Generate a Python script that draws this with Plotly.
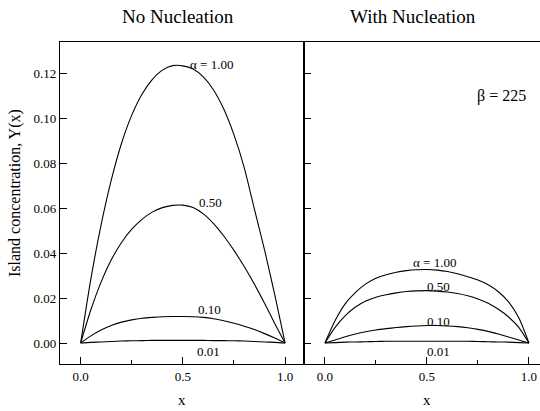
import plotly.graph_objects as go

# ---- data ----
x_pts = [0.0, 0.05, 0.10, 0.15, 0.20, 0.25, 0.30, 0.35, 0.40, 0.45, 0.50,
         0.55, 0.60, 0.65, 0.70, 0.75, 0.80, 0.85, 0.90, 0.95, 1.0]

# No Nucleation
no_a100 = [0, 0.0285, 0.0525, 0.0725, 0.0888, 0.1013, 0.1106, 0.1171, 0.1213, 0.1233, 0.1232,
           0.1218, 0.1183, 0.1125, 0.1040, 0.0925, 0.0780, 0.0595, 0.0412, 0.0212, 0]
no_a050 = [0, 0.0148, 0.0271, 0.0370, 0.0447, 0.0506, 0.0550, 0.0582, 0.0602, 0.0612, 0.0613,
           0.0602, 0.0574, 0.0531, 0.0476, 0.0412, 0.0340, 0.0261, 0.0176, 0.0086, 0]
no_a010 = [0, 0.0032, 0.0058, 0.0078, 0.0093, 0.0103, 0.0110, 0.0114, 0.0117, 0.0118, 0.0118,
           0.0117, 0.0114, 0.0108, 0.0099, 0.0088, 0.0075, 0.0060, 0.0042, 0.0022, 0]
no_a001 = [0, 0.0003, 0.0005, 0.0007, 0.0009, 0.0010, 0.0011, 0.0012, 0.0012, 0.0012, 0.0012,
           0.0012, 0.0012, 0.0011, 0.0011, 0.0010, 0.0009, 0.0007, 0.0005, 0.0003, 0]

# With Nucleation (beta = 225)
wn_a100 = [0, 0.0100, 0.0175, 0.0225, 0.0263, 0.0288, 0.0304, 0.0315, 0.0322, 0.0326, 0.0327,
           0.0324, 0.0318, 0.0308, 0.0295, 0.0280, 0.0259, 0.0228, 0.0183, 0.0112, 0]
wn_a050 = [0, 0.0070, 0.0122, 0.0160, 0.0187, 0.0204, 0.0215, 0.0223, 0.0229, 0.0232, 0.0233,
           0.0231, 0.0227, 0.0220, 0.0210, 0.0196, 0.0177, 0.0150, 0.0116, 0.0070, 0]
wn_a010 = [0, 0.0014, 0.0028, 0.0040, 0.0050, 0.0058, 0.0064, 0.0069, 0.0073, 0.0076, 0.0078,
           0.0078, 0.0076, 0.0073, 0.0068, 0.0061, 0.0052, 0.0040, 0.0027, 0.0014, 0]
wn_a001 = [0, 0.0002, 0.0004, 0.0005, 0.0006, 0.0007, 0.0008, 0.0008, 0.0008, 0.0008, 0.0008,
           0.0008, 0.0008, 0.0008, 0.0008, 0.0007, 0.0006, 0.0005, 0.0004, 0.0002, 0]

curve_labels = ["α = 1.00", "0.50", "0.10", "0.01"]
y_tick_vals = [0.00, 0.02, 0.04, 0.06, 0.08, 0.10, 0.12]
y_tick_text = ["0.00", "0.02", "0.04", "0.06", "0.08", "0.10", "0.12"]
x_tick_vals = [0.0, 0.5, 1.0]
x_tick_text = ["0.0", "0.5", "1.0"]
panel_titles = ["No Nucleation", "With Nucleation"]
beta_label = "β = 225"

FONT = "Liberation Serif, Times New Roman, serif"
line_style = dict(color="black", width=1.1, shape="spline", smoothing=0.7)

fig = go.Figure()
for ys in [no_a100, no_a050, no_a010, no_a001]:
    fig.add_trace(go.Scatter(x=x_pts, y=ys, mode="lines", line=line_style,
                             xaxis="x", yaxis="y", showlegend=False, hoverinfo="skip"))
for ys in [wn_a100, wn_a050, wn_a010, wn_a001]:
    fig.add_trace(go.Scatter(x=x_pts, y=ys, mode="lines", line=line_style,
                             xaxis="x2", yaxis="y2", showlegend=False, hoverinfo="skip"))

# curve labels (positions in data coordinates)
left_lbl = [(0.527, 0.1236, "left"), (0.634, 0.0625, "center"),
            (0.629, 0.0150, "center"), (0.624, -0.0039, "center")]
right_lbl = [(0.539, 0.0357, "center"), (0.559, 0.0253, "center"),
             (0.559, 0.0098, "center"), (0.559, -0.0039, "center")]
ann = []
lbl_font = dict(family=FONT, size=13, color="black")
for (xx, yy, anc), t in zip(left_lbl, curve_labels):
    ann.append(dict(x=xx, y=yy, xref="x", yref="y", text=t, showarrow=False,
                    xanchor=anc, yanchor="middle", font=lbl_font))
for (xx, yy, anc), t in zip(right_lbl, curve_labels):
    ann.append(dict(x=xx, y=yy, xref="x2", yref="y2", text=t, showarrow=False,
                    xanchor=anc, yanchor="middle", font=lbl_font))
ann.append(dict(x=0.863, y=0.1098, xref="x2", yref="y2", text=beta_label, showarrow=False,
                xanchor="center", yanchor="middle", font=dict(family=FONT, size=16, color="black")))

# titles and axis labels (paper coords)
ann.append(dict(x=(178 - 60) / 480, y=1 + (42 - 17) / 322, xref="paper", yref="paper",
                text=panel_titles[0], showarrow=False, xanchor="center", yanchor="middle",
                font=dict(family=FONT, size=19, color="black")))
ann.append(dict(x=(413 - 60) / 480, y=1 + (42 - 17) / 322, xref="paper", yref="paper",
                text=panel_titles[1], showarrow=False, xanchor="center", yanchor="middle",
                font=dict(family=FONT, size=19, color="black")))
ann.append(dict(x=(182 - 60) / 480, y=-(410 - 364) / 322, xref="paper", yref="paper",
                text="x", showarrow=False, xanchor="center", yanchor="bottom",
                font=dict(family=FONT, size=15, color="black")))
ann.append(dict(x=(427 - 60) / 480, y=-(410 - 364) / 322, xref="paper", yref="paper",
                text="x", showarrow=False, xanchor="center", yanchor="bottom",
                font=dict(family=FONT, size=15, color="black")))
ann.append(dict(x=(15 - 60) / 480, y=(364 - 193) / 322, xref="paper", yref="paper",
                text="Island concentration, Y(x)", showarrow=False, textangle=-90,
                xanchor="center", yanchor="middle",
                font=dict(family=FONT, size=16, color="black")))

split = (303.5 - 60) / 480
xcommon = dict(showline=True, linecolor="black", linewidth=1.2, mirror=True,
               ticks="inside", ticklen=7, tickcolor="black", tickwidth=1,
               tickvals=x_tick_vals, ticktext=x_tick_text, showgrid=False, zeroline=False,
               tickfont=dict(family=FONT, size=13, color="black"),
               minor=dict(tickvals=[0.25, 0.75], ticks="inside", ticklen=4,
                          tickcolor="black", showgrid=False))
ycommon = dict(showline=True, linecolor="black", linewidth=1.2,
               ticks="inside", ticklen=7, tickcolor="black", tickwidth=1,
               tickvals=y_tick_vals, ticktext=y_tick_text, showgrid=False, zeroline=False,
               range=[-0.0093, 0.1338], tickfont=dict(family=FONT, size=13, color="black"))

fig.update_layout(
    width=540, height=411,
    margin=dict(l=60, r=0, t=42, b=47),
    paper_bgcolor="white", plot_bgcolor="white",
    xaxis=dict(domain=[0, split], range=[-0.101, 1.09], anchor="y", **xcommon),
    yaxis=dict(domain=[0, 1], anchor="x", mirror=True, **ycommon),
    xaxis2=dict(domain=[split, 1], range=[-0.105, 1.054], anchor="y2", **xcommon),
    yaxis2=dict(domain=[0, 1], anchor="x2", showticklabels=False, **ycommon),
    annotations=ann,
    font=dict(family=FONT, color="black"),
)

fig.write_html("out.html", config={"displayModeBar": False},
               post_script="document.body.style.margin='0';")
